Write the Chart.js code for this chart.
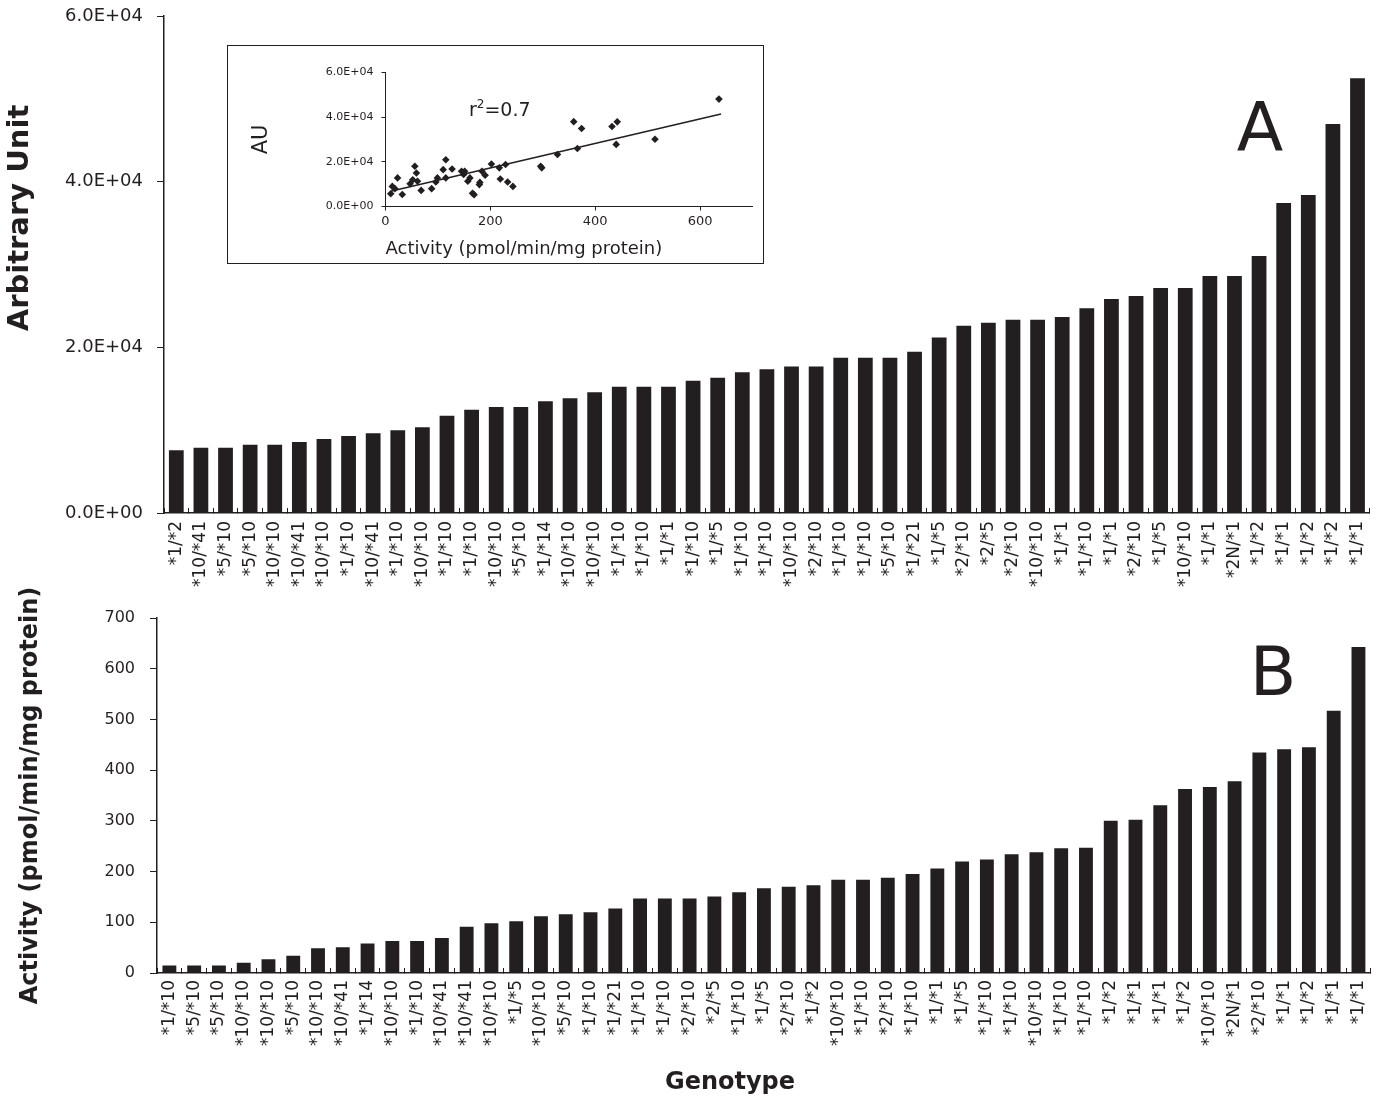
<!DOCTYPE html>
<html>
<head>
<meta charset="utf-8">
<script src="https://cdn.jsdelivr.net/npm/chart.js@4.4.1/dist/chart.umd.min.js"></script>
<style>
  body { margin: 0; background: #fff; }
  #wrap { position: relative; width: 1391px; height: 1099px; }
  #wrap canvas { position: absolute; }
  #inset { position: absolute; left: 227px; top: 45px; width: 535px; height: 217px;
           border: 1.5px solid #231f20; background: #fff; }
</style>
</head>
<body>
<div id="wrap">
  <canvas id="topChart" width="1391" height="605" style="left:0;top:0"></canvas>
  <canvas id="bottomChart" width="1391" height="529" style="left:0;top:570px"></canvas>
  <div id="inset"><canvas id="insetChart" width="535" height="217" style="left:0;top:0"></canvas></div>
</div>
<script>
// panel A: arbitrary units per sample, sorted
const auGenotypes = ['*1/*2', '*10/*41', '*5/*10', '*5/*10', '*10/*10', '*10/*41', '*10/*10', '*1/*10', '*10/*41', '*1/*10',
  '*10/*10', '*1/*10', '*1/*10', '*10/*10', '*5/*10', '*1/*14', '*10/*10', '*10/*10', '*1/*10', '*1/*10',
  '*1/*1', '*1/*10', '*1/*5', '*1/*10', '*1/*10', '*10/*10', '*2/*10', '*1/*10', '*1/*10', '*5/*10',
  '*1/*21', '*1/*5', '*2/*10', '*2/*5', '*2/*10', '*10/*10', '*1/*1', '*1/*10', '*1/*1', '*2/*10',
  '*1/*5', '*10/*10', '*1/*1', '*2N/*1', '*1/*2', '*1/*1', '*1/*2', '*1/*2', '*1/*1'];
const auValues = [7570, 7880, 7880, 8240, 8240, 8570, 8930, 9290, 9620, 9980,
  10340, 11750, 12470, 12790, 12790, 13480, 13840, 14570, 15250, 15250,
  15250, 15970, 16330, 16980, 17340, 17700, 17700, 18750, 18750, 18750,
  19470, 21200, 22610, 22970, 23330, 23330, 23660, 24710, 25830, 26190,
  27160, 27160, 28600, 28600, 31020, 37420, 38380, 46950, 52500];

// panel B: activity (pmol/min/mg protein), sorted
const actGenotypes = ['*1/*10', '*5/*10', '*5/*10', '*10/*10', '*10/*10', '*5/*10', '*10/*10', '*10/*41', '*1/*14', '*10/*10',
  '*1/*10', '*10/*41', '*10/*41', '*10/*10', '*1/*5', '*10/*10', '*5/*10', '*1/*10', '*1/*21', '*1/*10',
  '*1/*10', '*2/*10', '*2/*5', '*1/*10', '*1/*5', '*2/*10', '*1/*2', '*10/*10', '*1/*10', '*2/*10',
  '*1/*10', '*1/*1', '*1/*5', '*1/*10', '*1/*10', '*10/*10', '*1/*10', '*1/*10', '*1/*2', '*1/*1',
  '*1/*1', '*1/*2', '*10/*10', '*2N/*1', '*2/*10', '*1/*1', '*1/*2', '*1/*1', '*1/*1'];
const actValues = [15, 15, 15, 20, 27, 34, 49, 51, 58, 63,
  63, 69, 91, 98, 102, 112, 116, 120, 127, 147,
  147, 147, 151, 159, 167, 170, 173, 184, 184, 188,
  195, 206, 220, 224, 234, 238, 246, 247, 300, 302,
  331, 363, 367, 378, 435, 441, 445, 517, 643];

// inset: activity vs AU
const scatterActivity = [10, 13, 18, 23, 32, 47, 52, 56, 59, 61, 68, 88, 96, 99, 110, 115, 115, 127, 145, 149,
  151, 157, 161, 166, 169, 179, 180, 184, 190, 202, 217, 219, 229, 233, 243, 296, 298, 328, 359, 366,
  374, 432, 442, 440, 514, 636];
const scatterAU = [5700, 9000, 8000, 12800, 5400, 10200, 12000, 18000, 15000, 11300, 7200, 8000, 11000, 12800, 16500, 20900, 12800, 16800, 15800, 14300,
  15800, 11300, 12800, 5900, 5300, 9800, 10800, 15800, 14000, 19000, 17300, 12300, 18800, 11000, 9000, 18000, 17300, 23300, 38000, 26000,
  34900, 35800, 37900, 27800, 30100, 48100];
const trendActivity = [10, 640];
const trendAU = [6800, 41400];

const ink = '#231f20';
const fontFamily = "'DejaVu Sans', 'Liberation Sans', Arial, sans-serif";

function sci(v) {
  if (v === 0) return '0.0E+00';
  const e = Math.floor(Math.log10(Math.abs(v)));
  const m = v / Math.pow(10, e);
  return m.toFixed(1) + 'E' + (e < 0 ? '-' : '+') + String(Math.abs(e)).padStart(2, '0');
}

// fixed axis box sizes; drop the label overhang padding so layout.padding sets the plot top
function fixY(width) {
  return s => { s.width = width; s.paddingTop = 0; s.paddingBottom = 0; };
}

// free text: panel letters, off-centre axis titles, r^2 note
const extraText = {
  id: 'extraText',
  afterDraw(chart, args, opts) {
    const ctx = chart.ctx;
    (opts.items || []).forEach(it => {
      ctx.save();
      ctx.fillStyle = ink;
      ctx.textBaseline = it.baseline || 'middle';
      ctx.translate(it.x, it.y);
      if (it.rotate) ctx.rotate(it.rotate);
      if (it.parts) {
        ctx.textAlign = 'left';
        let x = 0;
        it.parts.forEach(p => {
          ctx.font = p.font;
          ctx.fillText(p.text, x, p.dy || 0);
          x += ctx.measureText(p.text).width;
        });
      } else {
        ctx.textAlign = it.align || 'center';
        ctx.font = it.font;
        ctx.fillText(it.text, 0, 0);
      }
      ctx.restore();
    });
  }
};

Chart.defaults.color = ink;
Chart.defaults.font.family = fontFamily;

new Chart(document.getElementById('topChart'), {
  type: 'bar',
  data: {
    labels: auGenotypes,
    datasets: [{ data: auValues, backgroundColor: ink, barPercentage: 0.6, categoryPercentage: 1 }]
  },
  options: {
    responsive: false,
    animation: false,
    layout: { padding: { top: 16, right: 9, left: 0, bottom: 0 } },
    plugins: {
      legend: { display: false },
      tooltip: { enabled: false },
      extraText: {
        items: [
          { text: 'Arbitrary Unit', x: 20, y: 218, rotate: -Math.PI / 2, font: "bold 29px " + fontFamily },
          { text: 'A', x: 1260, y: 133, font: "68px " + fontFamily }
        ]
      }
    },
    scales: {
      x: {
        grid: { drawOnChartArea: false, tickLength: -5, color: ink },
        border: { color: ink, width: 1.5 },
        ticks: { autoSkip: false, minRotation: 90, maxRotation: 90, padding: 13, font: { size: 17 } },
        afterFit: s => { s.height = 92; }
      },
      y: {
        min: 0, max: 60000,
        grid: { drawOnChartArea: false, tickLength: 7, color: ink },
        border: { color: ink, width: 1.5 },
        ticks: { stepSize: 20000, callback: sci, padding: 14, font: { size: 18 } },
        afterFit: fixY(164)
      }
    }
  },
  plugins: [extraText]
});

new Chart(document.getElementById('bottomChart'), {
  type: 'bar',
  data: {
    labels: actGenotypes,
    datasets: [{ data: actValues, backgroundColor: ink, barPercentage: 0.56, categoryPercentage: 1 }]
  },
  options: {
    responsive: false,
    animation: false,
    layout: { padding: { top: 48, right: 14, left: 0, bottom: 0 } },
    plugins: {
      legend: { display: false },
      tooltip: { enabled: false },
      extraText: {
        items: [
          { text: 'Genotype', x: 730, y: 513, font: "bold 24px " + fontFamily },
          { text: 'B', x: 1273, y: 107, font: "68px " + fontFamily }
        ]
      }
    },
    scales: {
      x: {
        grid: { drawOnChartArea: false, tickLength: -5, color: ink },
        border: { color: ink, width: 1.5 },
        ticks: { autoSkip: false, minRotation: 90, maxRotation: 90, padding: 12, font: { size: 17 } },
        afterFit: s => { s.height = 126; }
      },
      y: {
        min: 0, max: 700,
        grid: { drawOnChartArea: false, tickLength: 7, color: ink },
        border: { color: ink, width: 1.5 },
        ticks: { stepSize: 100, padding: 15, font: { size: 16 } },
        title: { display: true, text: 'Activity (pmol/min/mg protein)', padding: { top: 16, bottom: 0 },
                 font: { size: 24, weight: 'bold' } },
        afterFit: fixY(157)
      }
    }
  },
  plugins: [extraText]
});

new Chart(document.getElementById('insetChart'), {
  type: 'scatter',
  data: {
    datasets: [
      {
        data: scatterActivity.map((x, i) => ({ x, y: scatterAU[i] })),
        pointStyle: 'rectRot', pointRadius: 3.8, backgroundColor: ink, borderWidth: 0
      },
      {
        type: 'line',
        data: trendActivity.map((x, i) => ({ x, y: trendAU[i] })),
        borderColor: ink, borderWidth: 1.6, pointRadius: 0, fill: false
      }
    ]
  },
  options: {
    responsive: false,
    animation: false,
    layout: { padding: { top: 26.5, right: 10.5, left: 0, bottom: 0 } },
    plugins: {
      legend: { display: false },
      tooltip: { enabled: false },
      extraText: {
        items: [
          { x: 241, y: 70, baseline: 'alphabetic', parts: [
            { text: 'r', font: "19px " + fontFamily },
            { text: '2', font: "12px " + fontFamily, dy: -8 },
            { text: '=0.7', font: "19px " + fontFamily }
          ] }
        ]
      }
    },
    scales: {
      x: {
        type: 'linear', min: 0, max: 700,
        grid: { drawOnChartArea: false, tickLength: 4, color: ink },
        border: { color: ink, width: 1 },
        ticks: { stepSize: 200, includeBounds: false, padding: 3, font: { size: 13 } },
        title: { display: true, text: 'Activity (pmol/min/mg protein)', align: 'start',
                 padding: { top: 0, bottom: 3 }, font: { size: 18 } },
        afterFit: s => { s.height = 56.5; }
      },
      y: {
        min: 0, max: 60000,
        grid: { drawOnChartArea: false, tickLength: 4, color: ink },
        border: { color: ink, width: 1 },
        ticks: { stepSize: 20000, callback: sci, padding: 8, font: { size: 11 } },
        title: { display: true, text: 'AU', padding: { top: 21, bottom: 0 }, font: { size: 21 } },
        afterFit: fixY(157.5)
      }
    }
  },
  plugins: [extraText]
});
</script>
</body>
</html>
